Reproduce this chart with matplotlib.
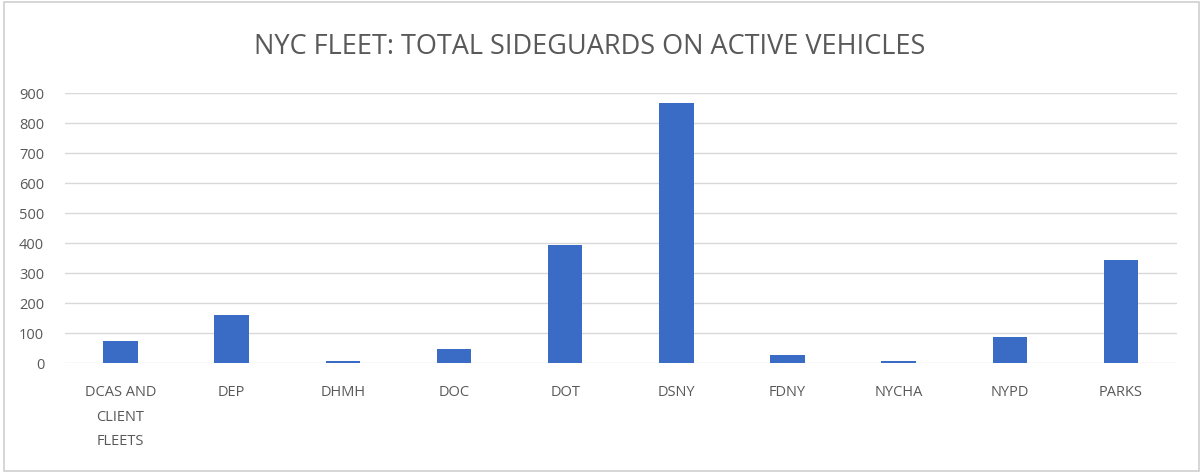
import matplotlib
matplotlib.use("Agg")
import matplotlib.pyplot as plt
from matplotlib.patches import Rectangle

agencies = ["DCAS AND\nCLIENT\nFLEETS", "DEP", "DHMH", "DOC", "DOT",
            "DSNY", "FDNY", "NYCHA", "NYPD", "PARKS"]
sideguards = [75, 160, 8, 48, 393, 867, 29, 7, 89, 343]
y_ticks = [0, 100, 200, 300, 400, 500, 600, 700, 800, 900]

BAR = "#3a6cc6"
TEXT = "#595959"
GRID = "#d9d9d9"

plt.rcParams["font.family"] = ["Open Sans", "DejaVu Sans"]

fig = plt.figure(figsize=(12.03, 4.73), dpi=100)
fig.patch.set_facecolor("white")
fig.add_artist(Rectangle((0.003, 0.005), 0.994, 0.99, transform=fig.transFigure,
                         fill=False, edgecolor="#d0d0d0", linewidth=1.2))

ax = fig.add_axes([0.054, 0.232, 0.924, 0.571])
x = range(len(agencies))
ax.bar(x, sideguards, width=0.31, color=BAR, zorder=3)

ax.set_xlim(-0.5, len(agencies) - 0.5)
ax.set_ylim(0, 900)
ax.set_yticks(y_ticks)
ax.set_yticklabels([str(v) for v in y_ticks])
ax.set_xticks(list(x))
ax.set_xticklabels(agencies, linespacing=1.85)

ax.grid(axis="y", color=GRID, linewidth=1.0, zorder=0)
for s in ax.spines.values():
    s.set_visible(False)
ax.tick_params(axis="both", length=0, colors=TEXT, labelsize=10.5)
ax.tick_params(axis="y", pad=15)
ax.tick_params(axis="x", pad=16)

fig.text(0.49, 0.9, "NYC FLEET: TOTAL SIDEGUARDS ON ACTIVE VEHICLES",
         ha="center", va="center", fontsize=19.5, color=TEXT)

fig.savefig("out.png", dpi=100, facecolor="white")
